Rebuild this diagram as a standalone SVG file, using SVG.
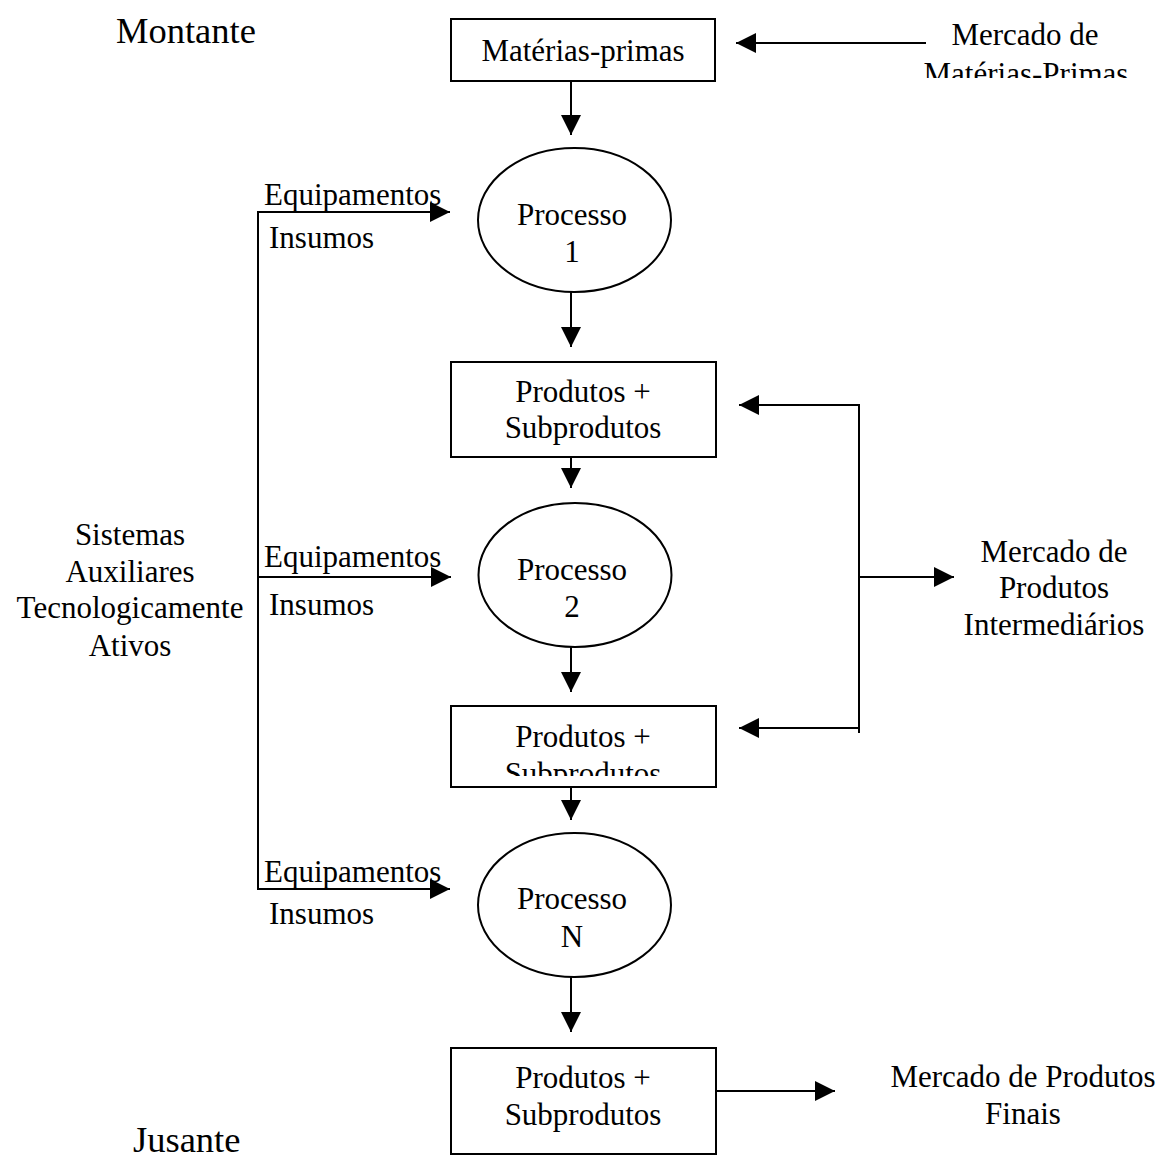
<svg xmlns="http://www.w3.org/2000/svg" width="1168" height="1160" viewBox="0 0 1168 1160">
<style>
text{font-family:"Liberation Serif","Times New Roman",serif;font-size:31px;fill:#000}
.big{font-size:36.5px}
.c{text-anchor:middle}
.box{fill:#fff;stroke:#000;stroke-width:2}
.ell{fill:#fff;stroke:#000;stroke-width:2}
.ln{fill:none;stroke:#000;stroke-width:2}
</style>
<defs>
<marker id="ah" markerUnits="userSpaceOnUse" markerWidth="20" markerHeight="20" refX="20" refY="10" orient="auto" viewBox="0 0 20 20">
<path d="M0,0 L20,10 L0,20 z" fill="#000"/>
</marker>
<clipPath id="clipMP"><rect x="900" y="0" width="268" height="78"/></clipPath>
<clipPath id="clipB2"><rect x="451" y="706" width="265" height="70"/></clipPath>
</defs>
<rect width="1168" height="1160" fill="#fff"/>

<g id="connectors">
<line class="ln" x1="926" y1="43" x2="736" y2="43" marker-end="url(#ah)"/>
<line class="ln" x1="571" y1="81" x2="571" y2="135" marker-end="url(#ah)"/>
<line class="ln" x1="571" y1="292" x2="571" y2="347" marker-end="url(#ah)"/>
<line class="ln" x1="571" y1="457" x2="571" y2="488" marker-end="url(#ah)"/>
<line class="ln" x1="571" y1="647" x2="571" y2="692" marker-end="url(#ah)"/>
<line class="ln" x1="571" y1="787" x2="571" y2="820" marker-end="url(#ah)"/>
<line class="ln" x1="571" y1="977" x2="571" y2="1032" marker-end="url(#ah)"/>
<line class="ln" x1="716" y1="1091" x2="835" y2="1091" marker-end="url(#ah)"/>
<line class="ln" x1="258" y1="211" x2="258" y2="890"/>
<line class="ln" x1="257" y1="212" x2="450" y2="212" marker-end="url(#ah)"/>
<line class="ln" x1="257" y1="577" x2="451" y2="577" marker-end="url(#ah)"/>
<line class="ln" x1="257" y1="889" x2="450" y2="889" marker-end="url(#ah)"/>
<line class="ln" x1="859" y1="404" x2="859" y2="733"/>
<line class="ln" x1="860" y1="405" x2="739" y2="405" marker-end="url(#ah)"/>
<line class="ln" x1="860" y1="728" x2="739" y2="728" marker-end="url(#ah)"/>
<line class="ln" x1="859" y1="577" x2="954" y2="577" marker-end="url(#ah)"/>
</g>

<g id="montante"><text class="big" x="116" y="43">Montante</text></g>
<g id="jusante"><text class="big" x="133" y="1152">Jusante</text></g>

<g id="materias-primas">
<rect class="box" x="451" y="19" width="264" height="62"/>
<text class="c" x="583" y="61">Matérias-primas</text>
</g>

<g id="mercado-mp" clip-path="url(#clipMP)">
<text class="c" x="1025" y="45">Mercado de</text>
<text class="c" x="1026" y="84">Matérias-Primas</text>
</g>

<g id="processo1">
<ellipse class="ell" cx="574.5" cy="220" rx="96.5" ry="72"/>
<text class="c" x="572" y="225">Processo</text>
<text class="c" x="572" y="262">1</text>
</g>

<g id="produtos1">
<rect class="box" x="451" y="362" width="265" height="95"/>
<text class="c" x="583" y="402">Produtos +</text>
<text class="c" x="583" y="438">Subprodutos</text>
</g>

<g id="processo2">
<ellipse class="ell" cx="575" cy="575" rx="96.5" ry="72"/>
<text class="c" x="572" y="580">Processo</text>
<text class="c" x="572" y="617">2</text>
</g>

<g id="produtos2">
<rect class="box" x="451" y="706" width="265" height="81"/>
<g clip-path="url(#clipB2)">
<text class="c" x="583" y="747">Produtos +</text>
<text class="c" x="583" y="784">Subprodutos</text>
</g>
</g>

<g id="processoN">
<ellipse class="ell" cx="574.5" cy="905" rx="96.5" ry="72"/>
<text class="c" x="572" y="909">Processo</text>
<text class="c" x="572" y="947">N</text>
</g>

<g id="produtos3">
<rect class="box" x="451" y="1048" width="265" height="106"/>
<text class="c" x="583" y="1088">Produtos +</text>
<text class="c" x="583" y="1125">Subprodutos</text>
</g>

<g id="labels-insumos">
<text x="264" y="205">Equipamentos</text>
<text x="269" y="248">Insumos</text>
<text x="264" y="567">Equipamentos</text>
<text x="269" y="615">Insumos</text>
<text x="264" y="882">Equipamentos</text>
<text x="269" y="924">Insumos</text>
</g>

<g id="sistemas">
<text class="c" x="130" y="545">Sistemas</text>
<text class="c" x="130" y="582">Auxiliares</text>
<text class="c" x="130" y="618">Tecnologicamente</text>
<text class="c" x="130" y="656">Ativos</text>
</g>

<g id="mercado-intermediarios">
<text class="c" x="1054" y="562">Mercado de</text>
<text class="c" x="1054" y="598">Produtos</text>
<text class="c" x="1054" y="635">Intermediários</text>
</g>

<g id="mercado-finais">
<text class="c" x="1023" y="1087">Mercado de Produtos</text>
<text class="c" x="1023" y="1124">Finais</text>
</g>
</svg>
